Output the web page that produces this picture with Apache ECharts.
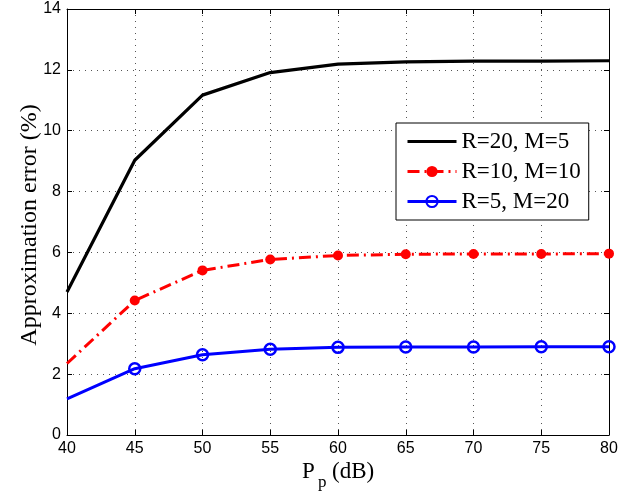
<!DOCTYPE html>
<html>
<head>
<meta charset="utf-8">
<script src="https://cdn.jsdelivr.net/npm/echarts@6/dist/echarts.min.js"></script>
<style>
  html, body { margin: 0; padding: 0; background: #fff; }
  #chart { width: 630px; height: 495px; }
</style>
</head>
<body>
<div id="chart"></div>
<script>
// Transmit power P_p (dB)
const powerDb = [40, 45, 50, 55, 60, 65, 70, 75, 80];

// Approximation error (%) for each (R, M) configuration
const errR20M5  = [4.70, 9.03, 11.17, 11.91, 12.19, 12.26, 12.29, 12.29, 12.30];
const errR10M10 = [2.35, 4.42, 5.41, 5.77, 5.90, 5.94, 5.95, 5.95, 5.96];
const errR5M20  = [1.19, 2.18, 2.64, 2.82, 2.88, 2.89, 2.89, 2.90, 2.90];

const seriesNames = ['R=20, M=5', 'R=10, M=10', 'R=5, M=20'];

const xTicks = { min: 40, max: 80, interval: 5 };
const yTicks = { min: 0, max: 14, interval: 2 };

// Markers are drawn from the second sample onward; the first point only anchors the line.
const pairs = (ys) => powerDb.map((x, i) =>
  i === 0 ? { value: [x, ys[i]], symbol: 'none' } : { value: [x, ys[i]] });

const serif = '"Liberation Serif", "DejaVu Serif", serif';
const sans = '"Liberation Sans", Arial, sans-serif';

const gridDots = { show: true, lineStyle: { color: '#555', width: 1, type: [1, 5] } };
const boxLine = { show: true, onZero: false, lineStyle: { color: '#000', width: 1 } };
const innerTick = { show: true, inside: true, length: 5, lineStyle: { color: '#000', width: 1 } };

const chart = echarts.init(document.getElementById('chart'), null, { renderer: 'canvas' });

chart.setOption({
  backgroundColor: '#fff',
  animation: false,
  grid: { left: 67, right: 21, top: 9, bottom: 60, containLabel: false, outerBoundsMode: 'none' },
  xAxis: [
    {
      type: 'value', position: 'bottom', ...xTicks,
      axisLine: boxLine, axisTick: innerTick, splitLine: gridDots,
      axisLabel: { color: '#000', fontFamily: sans, fontSize: 16, margin: 6 }
    },
    {
      type: 'value', position: 'top', ...xTicks,
      axisLine: boxLine, axisTick: innerTick, splitLine: { show: false },
      axisLabel: { show: false }
    }
  ],
  yAxis: [
    {
      type: 'value', position: 'left', ...yTicks,
      axisLine: boxLine, axisTick: innerTick, splitLine: gridDots,
      axisLabel: { color: '#000', fontFamily: sans, fontSize: 16, margin: 6 }
    },
    {
      type: 'value', position: 'right', ...yTicks,
      axisLine: boxLine, axisTick: innerTick, splitLine: { show: false },
      axisLabel: { show: false }
    }
  ],
  legend: {
    orient: 'vertical',
    left: 396, top: 123,
    padding: [7, 8, 7, 10],
    itemGap: 7,
    itemWidth: 49, itemHeight: 14,
    backgroundColor: '#fff',
    borderColor: '#000', borderWidth: 1, borderRadius: 0,
    lineStyle: { width: 3 },
    textStyle: { color: '#000', fontFamily: serif, fontSize: 23, lineHeight: 22 },
    data: [
      { name: seriesNames[0], itemStyle: { color: 'rgba(0,0,0,0)', borderWidth: 0 } },
      { name: seriesNames[1] },
      { name: seriesNames[2] }
    ]
  },
  graphic: [
    {
      type: 'text', x: 30, y: 225, rotation: Math.PI / 2,
      style: {
        text: 'Approximation error (%)', fill: '#000', font: '24px ' + serif,
        align: 'center', verticalAlign: 'middle'
      }
    },
    {
      type: 'text', left: 302, top: 460,
      style: { text: 'P', fill: '#000', font: '23px ' + serif }
    },
    {
      type: 'text', left: 318, top: 474,
      style: { text: 'p', fill: '#000', font: '17px ' + serif }
    },
    {
      type: 'text', left: 332, top: 460,
      style: { text: '(dB)', fill: '#000', font: '23px ' + serif }
    }
  ],
  series: [
    {
      name: seriesNames[0], type: 'line', data: powerDb.map((x, i) => [x, errR20M5[i]]),
      symbol: 'none', color: '#000',
      lineStyle: { color: '#000', width: 3.2 }
    },
    {
      name: seriesNames[1], type: 'line', data: pairs(errR10M10),
      symbol: 'circle', symbolSize: 10, color: '#ff0000',
      itemStyle: { color: '#ff0000' },
      lineStyle: { color: '#ff0000', width: 3, type: [12, 5, 2, 5] }
    },
    {
      name: seriesNames[2], type: 'line', data: pairs(errR5M20),
      symbol: 'circle', symbolSize: 11, color: '#0000ff',
      itemStyle: { color: 'rgba(0,0,0,0)', borderColor: '#0000ff', borderWidth: 2.5 },
      lineStyle: { color: '#0000ff', width: 3 }
    }
  ]
});
</script>
</body>
</html>
